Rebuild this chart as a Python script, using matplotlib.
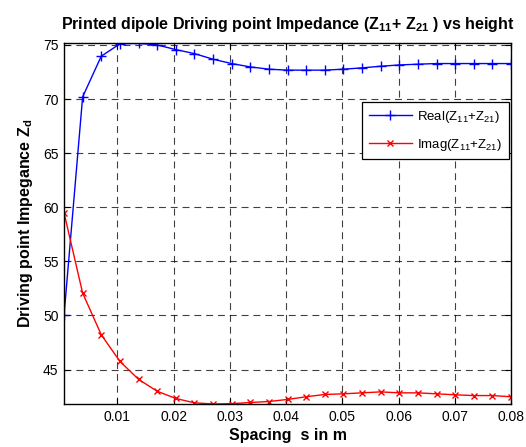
import numpy as np
import matplotlib
matplotlib.use("Agg")
import matplotlib.pyplot as plt

plt.rcParams['font.family'] = ['Liberation Sans', 'DejaVu Sans']
plt.rcParams['mathtext.fontset'] = 'custom'
plt.rcParams['mathtext.rm'] = 'Liberation Sans'
plt.rcParams['mathtext.it'] = 'Liberation Sans'
plt.rcParams['mathtext.bf'] = 'Liberation Sans:bold'
plt.rcParams['lines.scale_dashes'] = False

spacing = np.linspace(0.0005, 0.08, 25)
real_z = [50.0, 70.2, 73.96, 75.1, 75.15, 75.0, 74.57, 74.2, 73.68, 73.28,
          72.97, 72.76, 72.67, 72.67, 72.67, 72.76, 72.88, 73.03, 73.15, 73.22,
          73.28, 73.28, 73.28, 73.28, 73.28]
imag_z = [59.5, 52.07, 48.22, 45.76, 44.1, 43.0, 42.33, 41.93, 41.82, 41.85,
          41.96, 42.05, 42.24, 42.49, 42.7, 42.76, 42.85, 42.94, 42.85, 42.85,
          42.76, 42.67, 42.6, 42.6, 42.49]
xticks = [0.01, 0.02, 0.03, 0.04, 0.05, 0.06, 0.07, 0.08]
yticks = [45, 50, 55, 60, 65, 70, 75]

fig = plt.figure(figsize=(5.26, 4.47), dpi=100)
ax = fig.add_axes([0.1217, 0.0962, 0.8498, 0.8069])

ax.plot(spacing, real_z, color='blue', marker='+', markersize=7, markeredgewidth=1.0,
        linewidth=1.0, label=r'Real(Z$_{11}$+Z$_{21}$)')
ax.plot(spacing, imag_z, color='red', marker='x', markersize=4, markeredgewidth=1.0,
        linewidth=1.0, label=r'Imag(Z$_{11}$+Z$_{21}$)')

ax.set_xlim(spacing[0], 0.08)
ax.set_ylim(min(imag_z), max(real_z))
ax.set_xticks(xticks)
ax.set_xticklabels([f"{t:g}" for t in xticks])
ax.set_yticks(yticks)
ax.tick_params(direction='in', labelsize=10, length=4, width=0.8, top=True, right=True, pad=4)
ax.grid(True, color='black', linestyle=(0, (5, 3.5)), linewidth=0.8, alpha=0.75)
for s in ax.spines.values():
    s.set_linewidth(1.0)

ax.set_title(r'Printed dipole Driving point Impedance (Z$_{\mathbf{11}}$+ Z$_{\mathbf{21}}$ ) vs height',
             fontsize=11.5, fontweight='bold', pad=10)
ax.set_xlabel(r'Spacing  s in m', fontsize=11.5, fontweight='bold', labelpad=3)
ax.set_ylabel(r'Driving point Impegance Z$_\mathbf{d}$', fontsize=11.5, fontweight='bold', labelpad=6)

leg = ax.legend(loc='upper right', bbox_to_anchor=(0.9955, 0.837), fontsize=9.5, frameon=True,
                fancybox=False, edgecolor='black', framealpha=1.0, handlelength=3.3,
                borderpad=0.5, labelspacing=0.9, handletextpad=0.4, borderaxespad=0)
leg.get_frame().set_linewidth(0.9)

fig.savefig('out.png', dpi=100)
